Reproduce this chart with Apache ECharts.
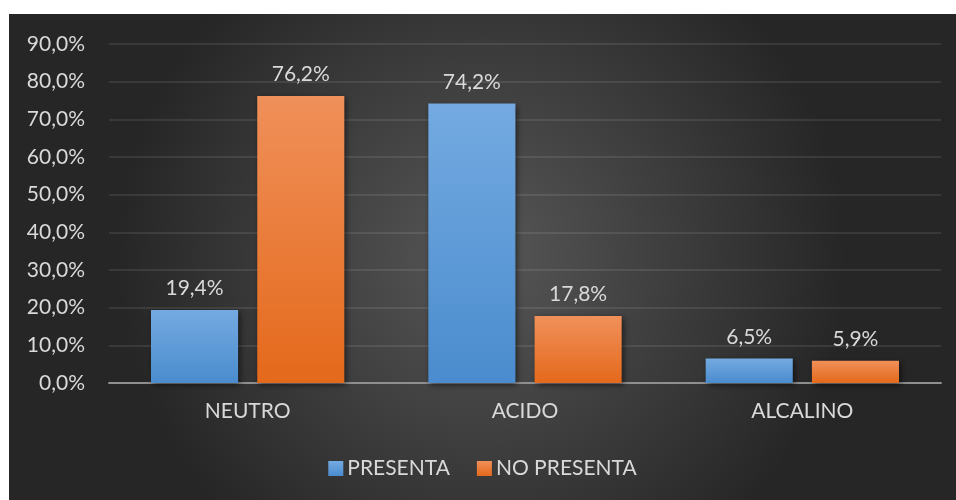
<!DOCTYPE html>
<html>
<head>
<meta charset="utf-8">
<script src="https://cdn.jsdelivr.net/npm/echarts@6/dist/echarts.min.js"></script>
<style>
  html, body { margin: 0; padding: 0; background: #ffffff; }
  #wrap { position: relative; width: 956px; height: 500px; overflow: hidden; }
  #chart { position: absolute; left: 9px; top: 14px; width: 947px; height: 486px; }
</style>
</head>
<body>
<div id="wrap"><div id="chart"></div></div>
<script>
// pH categories and share of cases (percent) for each group
const categories = ['NEUTRO', 'ACIDO', 'ALCALINO'];
const presenta = [19.4, 74.2, 6.5];
const noPresenta = [76.2, 17.8, 5.9];
const seriesNames = ['PRESENTA', 'NO PRESENTA'];

const FONT = 'Lato';
const TEXT = '#d9d9d9';

function pct(v) {
  return Number(v).toFixed(1).replace('.', ',') + '%';
}

function barFill(top, bottom) {
  return new echarts.graphic.LinearGradient(0, 0, 0, 1, [
    { offset: 0, color: top },
    { offset: 1, color: bottom }
  ]);
}

const chart = echarts.init(document.getElementById('chart'), null, { renderer: 'canvas' });

const labelStyle = {
  show: true,
  position: 'top',
  distance: 11,
  color: TEXT,
  fontFamily: FONT,
  fontSize: 21,
  formatter: p => pct(p.value)
};

const shadow = {
  shadowColor: 'rgba(0,0,0,0.55)',
  shadowBlur: 6,
  shadowOffsetX: 2,
  shadowOffsetY: 2
};

chart.setOption({
  backgroundColor: {
    type: 'radial', x: 0.5, y: 0.5, r: 0.75,
    colorStops: [
      { offset: 0, color: '#575757' },
      { offset: 1, color: '#262626' }
    ]
  },
  animation: false,
  grid: { left: 100, right: 15, top: 30, bottom: 117 },
  legend: {
    bottom: 16,
    left: 'center',
    itemWidth: 15,
    itemHeight: 15,
    itemGap: 27,
    icon: 'rect',
    textStyle: { color: TEXT, fontFamily: FONT, fontSize: 21, padding: [0, 0, 0, -1] },
    data: seriesNames
  },
  xAxis: {
    type: 'category',
    data: categories,
    axisLine: { show: true, lineStyle: { color: '#8f8f8f', width: 2 } },
    axisTick: { show: false },
    axisLabel: { color: TEXT, fontFamily: FONT, fontSize: 21, margin: 18 }
  },
  yAxis: {
    type: 'value',
    min: 0,
    max: 90,
    interval: 10,
    axisLine: { show: false },
    axisTick: { show: false },
    splitLine: { lineStyle: { color: 'rgba(255,255,255,0.09)', width: 2 } },
    axisLabel: { color: TEXT, fontFamily: FONT, fontSize: 21, margin: 24, formatter: v => pct(v) }
  },
  series: [
    {
      name: seriesNames[0],
      type: 'bar',
      data: presenta,
      barWidth: '31.4%',
      barGap: '22%',
      itemStyle: Object.assign({ color: barFill('#74aae1', '#4a8cce') }, shadow),
      label: labelStyle
    },
    {
      name: seriesNames[1],
      type: 'bar',
      data: noPresenta,
      barWidth: '31.4%',
      barGap: '22%',
      itemStyle: Object.assign({ color: barFill('#f0905a', '#e4691b') }, shadow),
      label: labelStyle
    }
  ]
});
</script>
</body>
</html>
